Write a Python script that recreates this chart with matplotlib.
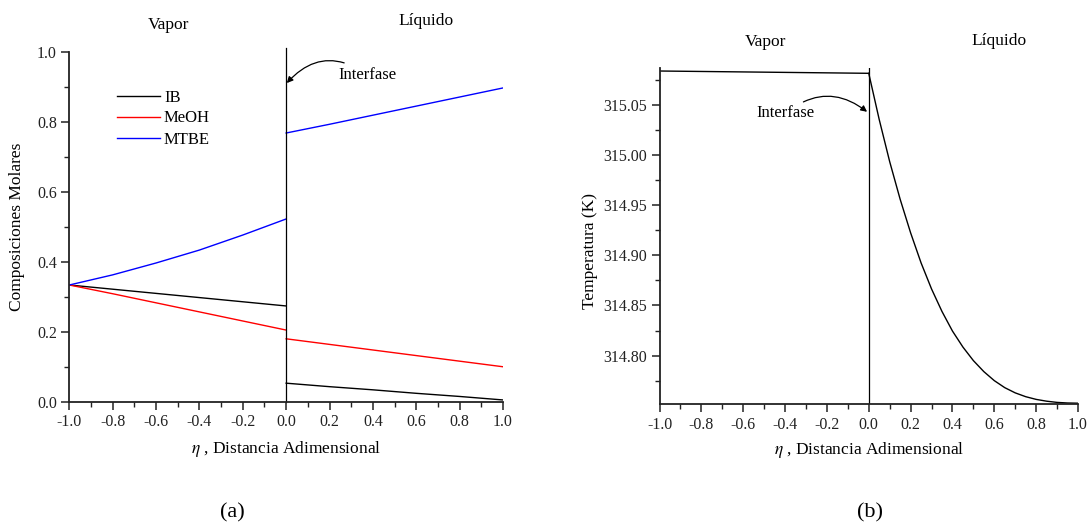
import matplotlib
matplotlib.use("Agg")
import matplotlib.pyplot as plt
from matplotlib.ticker import MultipleLocator, FormatStrFormatter

plt.rcParams['font.family'] = ['Liberation Serif', 'DejaVu Serif']
plt.rcParams['mathtext.fontset'] = 'stix'

# ---------------- data ----------------
# Panel (a): molar compositions
eta_vap = [-1.0, -0.8, -0.6, -0.4, -0.2, 0.0]
eta_liq = [0.0, 0.2, 0.4, 0.6, 0.8, 1.0]
ib_vap = [0.334, 0.322, 0.310, 0.298, 0.286, 0.274]
meoh_vap = [0.334, 0.309, 0.283, 0.257, 0.231, 0.205]
mtbe_vap = [0.334, 0.363, 0.397, 0.434, 0.477, 0.523]
ib_liq = [0.053, 0.043, 0.034, 0.024, 0.015, 0.005]
meoh_liq = [0.180, 0.164, 0.148, 0.132, 0.116, 0.100]
mtbe_liq = [0.769, 0.794, 0.820, 0.846, 0.872, 0.898]
series_names = ["IB", "MeOH", "MTBE"]

# Panel (b): temperature
eta_t_vap = [-1.0, 0.0]
temp_vap = [315.0839, 315.0816]
eta_t_liq = [0.00, 0.05, 0.10, 0.15, 0.20, 0.25, 0.30, 0.35, 0.40, 0.45, 0.50,
             0.55, 0.60, 0.65, 0.70, 0.75, 0.80, 0.85, 0.90, 0.95, 1.00]
temp_liq = [315.0816, 315.0355, 314.9935, 314.9560, 314.9225, 314.8925,
            314.8665, 314.8440, 314.8245, 314.8085, 314.7950, 314.7840,
            314.7750, 314.7680, 314.7628, 314.7590, 314.7563, 314.7545,
            314.7533, 314.7527, 314.7525]

x_ticks = [-1.0, -0.8, -0.6, -0.4, -0.2, 0.0, 0.2, 0.4, 0.6, 0.8, 1.0]
ya_ticks = [0.0, 0.2, 0.4, 0.6, 0.8, 1.0]
yb_ticks = [314.80, 314.85, 314.90, 314.95, 315.00, 315.05]

# ---------------- figure ----------------
W, H = 1088, 525
fig = plt.figure(figsize=(W / 100, H / 100), dpi=100)


def rect(x0, x1, ytop, ybot):
    return [x0 / W, 1 - ybot / H, (x1 - x0) / W, (ybot - ytop) / H]


def fx(px):
    return px / W


def fy(py):
    return 1 - py / H


ax1 = fig.add_axes(rect(69.3, 503.0, 52.3, 401.7))
ax2 = fig.add_axes(rect(659.5, 1078.0, 68.3, 404.3))

for ax in (ax1, ax2):
    ax.spines['top'].set_visible(False)
    ax.spines['right'].set_visible(False)
    for s in ('left', 'bottom'):
        ax.spines[s].set_linewidth(1.3)
        ax.spines[s].set_color('#222222')
    ax.tick_params(which='major', direction='out', length=6, width=1.1,
                   labelsize=11.5, pad=3, colors='#222222')
    ax.tick_params(which='minor', direction='out', length=3.5, width=1.0,
                   colors='#222222')
    ax.set_xlim(-1.0, 1.0)
    ax.set_xticks(x_ticks)
    ax.xaxis.set_minor_locator(MultipleLocator(0.1))
    ax.xaxis.set_major_formatter(FormatStrFormatter('%.1f'))
    ax.set_facecolor('none')

# ---- panel (a)
lw = 1.0
l1, = ax1.plot(eta_vap, ib_vap, color='black', lw=lw, label=series_names[0])
l2, = ax1.plot(eta_vap, meoh_vap, color='#ff0000', lw=lw, label=series_names[1])
l3, = ax1.plot(eta_vap, mtbe_vap, color='#0000ff', lw=lw, label=series_names[2])
ax1.plot(eta_liq, ib_liq, color='black', lw=lw)
ax1.plot(eta_liq, meoh_liq, color='#ff0000', lw=lw)
ax1.plot(eta_liq, mtbe_liq, color='#0000ff', lw=lw)
ax1.set_ylim(0.0, 1.0)
ax1.set_yticks(ya_ticks)
ax1.yaxis.set_minor_locator(MultipleLocator(0.1))
ax1.yaxis.set_major_formatter(FormatStrFormatter('%.1f'))
ax1.plot([0, 0], [0, 1.012], color='black', lw=0.9, clip_on=False)

leg = ax1.legend(handles=[l1, l2, l3], loc='upper left',
                 bbox_to_anchor=(fx(117), fy(89.5)), bbox_transform=fig.transFigure,
                 frameon=False, fontsize=12, borderpad=0, borderaxespad=0,
                 handlelength=2.6, handletextpad=0.22, labelspacing=0.30)

ax1.annotate('Interfase', xy=(0.003, 0.912), xytext=(fx(338.3), fy(75)),
             textcoords='figure fraction', fontsize=12, ha='left', va='center',
             arrowprops=dict(arrowstyle='-|>', color='black', lw=0.9,
                             mutation_scale=9, shrinkA=3, shrinkB=0,
                             connectionstyle='arc3,rad=0.45'))

# ---- panel (b)
ax2.plot(eta_t_vap, temp_vap, color='black', lw=lw)
ax2.plot(eta_t_liq, temp_liq, color='black', lw=lw)
ax2.set_ylim(314.7514, 315.0866)
ax2.set_yticks(yb_ticks)
ax2.yaxis.set_minor_locator(MultipleLocator(0.025))
ax2.yaxis.set_major_formatter(FormatStrFormatter('%.2f'))
ax2.plot([0, 0], [314.7514, 315.0866], color='black', lw=0.9)

ax2.annotate('Interfase', xy=(-0.008, 315.0432), xytext=(fx(815), fy(113.3)),
             textcoords='figure fraction', fontsize=12, ha='right', va='center',
             arrowprops=dict(arrowstyle='-|>', color='black', lw=0.9,
                             mutation_scale=9, shrinkA=1, shrinkB=0,
                             connectionstyle='arc3,rad=-0.4'))

# ---- texts
fs = 12.5
fig.text(fx(168), fy(25), 'Vapor', ha='center', va='center', fontsize=fs)
fig.text(fx(426), fy(20.7), 'Líquido', ha='center', va='center', fontsize=fs)
fig.text(fx(765.4), fy(41.7), 'Vapor', ha='center', va='center', fontsize=fs)
fig.text(fx(999), fy(40.7), 'Líquido', ha='center', va='center', fontsize=fs)

fig.text(fx(286), fy(449.3), r'$\eta$ , Distancia Adimensional', ha='center',
         va='center', fontsize=fs)
fig.text(fx(869), fy(450), r'$\eta$ , Distancia Adimensional', ha='center',
         va='center', fontsize=fs)
fig.text(fx(17.5), fy(227), 'Composiciones Molares', ha='center', va='center',
         rotation=90, fontsize=fs)
fig.text(fx(590), fy(251), 'Temperatura (K)', ha='center', va='center',
         rotation=90, fontsize=fs)

fig.text(fx(232.4), fy(513), '(a)', ha='center', va='center', fontsize=16)
fig.text(fx(870), fy(513), '(b)', ha='center', va='center', fontsize=16)

fig.savefig('out.png', dpi=100, facecolor='white')
